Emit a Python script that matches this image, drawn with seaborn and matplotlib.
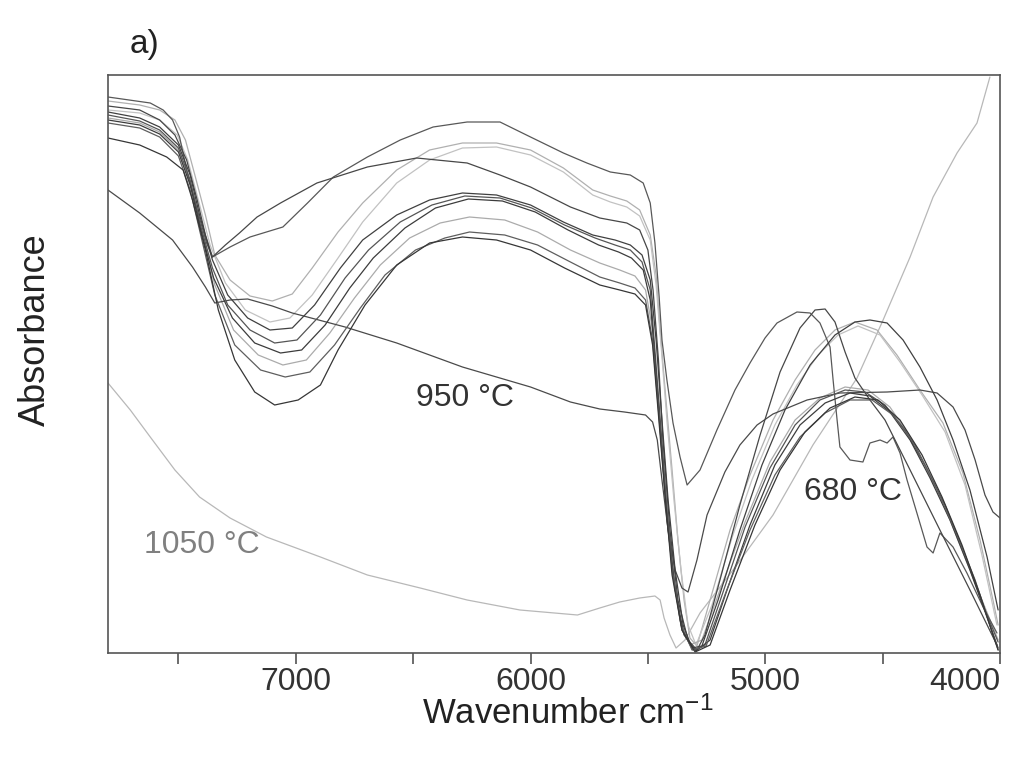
import pandas as pd
import matplotlib
matplotlib.use("Agg")
import matplotlib.pyplot as plt
import seaborn as sns

# ---------------------------------------------------------
# Spectra (wavenumber cm-1, absorbance a.u.)
# ---------------------------------------------------------
wn_1050 = [7800, 7705, 7620, 7515, 7410, 7280, 7125, 6895, 6695, 6470, 6270, 6045, 5800, 5705,
           5620, 5535, 5470, 5448, 5431, 5406, 5380, 5342, 5278, 5137, 4967, 4797, 4609, 4498,
           4383, 4285, 4183, 4098, 4043]
ab_1050 = [270, 243, 216, 183, 156, 135, 116, 96, 78, 65, 53, 43, 38, 45,
           51, 55, 57, 53, 35, 18, 5, 13, 40, 83, 138, 208, 275, 333,
           396, 456, 500, 530, 576]

wn_950 = [7800, 7665, 7525, 7440, 7385, 7345, 7280, 7205, 7100, 7015, 6790, 6570, 6290, 6000,
          5830, 5705, 5600, 5510, 5480, 5460, 5440, 5414, 5384, 5355, 5329, 5291, 5248, 5172,
          5108, 5035, 4967, 4822, 4682, 4481, 4341, 4268, 4200, 4149, 4106, 4064, 4030, 4000]
ab_950 = [463, 440, 413, 386, 366, 350, 353, 354, 347, 340, 326, 310, 286, 266,
          251, 244, 241, 238, 231, 213, 173, 123, 83, 65, 61, 93, 138, 181,
          208, 228, 239, 253, 260, 261, 263, 260, 246, 223, 193, 158, 141, 135]

wn_680 = [7800, 7620, 7565, 7525, 7495, 7465, 7420, 7380, 7355, 7280, 7195, 7055, 6950, 6840,
          6695, 6555, 6415, 6270, 6130, 6000, 5860, 5760, 5660, 5575, 5520, 5490, 5470, 5452,
          5440, 5419, 5393, 5363, 5333, 5278, 5206, 5129, 5065, 5001, 4950, 4865, 4809, 4767,
          4724, 4711, 4694, 4682, 4639, 4584, 4554, 4511, 4481, 4456, 4426, 4396, 4354, 4311,
          4285, 4256, 4200, 4141, 4072, 4013]
ab_680 = [556, 550, 543, 533, 516, 483, 443, 410, 396, 406, 416, 426, 450, 476,
          496, 513, 526, 531, 531, 516, 500, 490, 481, 478, 470, 450, 410, 356,
          313, 273, 230, 196, 168, 183, 223, 263, 290, 315, 330, 341, 340, 330,
          306, 273, 233, 206, 193, 191, 210, 213, 210, 216, 200, 173, 140, 106,
          100, 120, 106, 80, 46, 20]

wn_s1 = [7800, 7665, 7580, 7515, 7465, 7420, 7385, 7355, 7300, 7240, 7165, 7065, 6910, 6695,
         6485, 6270, 6130, 6000, 5830, 5705, 5590, 5535, 5500, 5478, 5455, 5436, 5406, 5372,
         5329, 5291, 5257, 5193, 5108, 5022, 4937, 4852, 4788, 4745, 4703, 4660, 4618, 4554,
         4490, 4383, 4256, 4128, 4013]
ab_s1 = [547, 543, 533, 518, 493, 453, 418, 396, 408, 420, 436, 450, 470, 486,
         495, 490, 478, 466, 446, 435, 430, 423, 403, 363, 293, 213, 123, 53,
         13, 3, 18, 73, 148, 218, 281, 325, 343, 344, 331, 301, 275, 253,
         233, 183, 123, 63, 8]

wn_l1 = [7800, 7665, 7580, 7515, 7470, 7430, 7385, 7345, 7280, 7195, 7100, 7015, 6930, 6820,
         6715, 6570, 6430, 6290, 6145, 6000, 5860, 5735, 5660, 5590, 5535, 5490, 5465, 5448,
         5423, 5397, 5372, 5346, 5321, 5291, 5235, 5150, 5065, 4967, 4873, 4788, 4703, 4618,
         4524, 4439, 4341, 4243, 4158, 4085, 4030, 4008]
ab_l1 = [552, 548, 543, 533, 513, 478, 438, 398, 373, 357, 352, 359, 385, 421,
         450, 483, 503, 510, 510, 503, 485, 463, 457, 452, 443, 418, 378, 323,
         253, 183, 113, 53, 15, 7, 53, 123, 178, 233, 273, 303, 323, 331,
         323, 298, 263, 230, 180, 113, 53, 28]

wn_l2 = [7800, 7665, 7580, 7505, 7460, 7415, 7365, 7300, 7215, 7110, 7025, 6930, 6820, 6715,
         6570, 6430, 6290, 6145, 6000, 5860, 5735, 5660, 5590, 5535, 5490, 5465, 5444, 5419,
         5389, 5359, 5329, 5295, 5227, 5142, 5057, 4959, 4865, 4775, 4690, 4605, 4511, 4426,
         4332, 4234, 4149, 4077, 4013]
ab_l2 = [543, 540, 533, 518, 493, 453, 408, 370, 343, 331, 335, 358, 395, 431,
         470, 493, 505, 506, 498, 481, 458, 451, 446, 437, 413, 368, 308, 233,
         153, 83, 28, 8, 48, 115, 173, 228, 268, 298, 318, 327, 318, 291,
         258, 221, 168, 98, 28]

wn_l3 = [7800, 7665, 7580, 7500, 7450, 7400, 7345, 7265, 7160, 7055, 6955, 6855, 6750, 6640,
         6515, 6385, 6260, 6110, 5970, 5830, 5705, 5620, 5555, 5510, 5480, 5455, 5427, 5397,
         5363, 5321, 5270, 5193, 5086, 4980, 4873, 4767, 4660, 4562, 4469, 4383, 4298, 4213,
         4128, 4051, 4008]
ab_l3 = [535, 530, 521, 503, 470, 421, 368, 323, 298, 288, 293, 320, 355, 388,
         415, 430, 436, 433, 421, 403, 390, 383, 377, 363, 323, 253, 173, 93,
         33, 8, 13, 63, 131, 191, 233, 255, 266, 263, 246, 216, 178, 133,
         83, 38, 13]

wn_b1 = [7800, 7665, 7580, 7500, 7450, 7410, 7355, 7290, 7205, 7110, 7015, 6920, 6810, 6715,
         6570, 6430, 6290, 6145, 6000, 5860, 5735, 5640, 5575, 5525, 5490, 5465, 5440, 5414,
         5384, 5350, 5312, 5270, 5201, 5108, 5014, 4916, 4809, 4703, 4618, 4554, 4481, 4413,
         4341, 4268, 4200, 4128, 4055, 4008]
ab_b1 = [541, 535, 526, 508, 478, 438, 393, 358, 335, 323, 325, 348, 385, 413,
         438, 453, 460, 458, 448, 431, 418, 413, 408, 398, 373, 313, 233, 153,
         83, 28, 5, 7, 53, 123, 188, 243, 288, 318, 331, 333, 330, 313,
         286, 253, 213, 163, 96, 43]

wn_b2 = [7800, 7665, 7580, 7500, 7450, 7410, 7355, 7290, 7195, 7090, 6995, 6895, 6790, 6690,
         6555, 6420, 6280, 6130, 5995, 5855, 5725, 5640, 5575, 5525, 5490, 5470, 5444, 5419,
         5389, 5355, 5308, 5257, 5184, 5086, 4980, 4873, 4767, 4660, 4575, 4490, 4405, 4320,
         4234, 4149, 4064, 4008]
ab_b2 = [538, 532, 523, 505, 473, 431, 385, 348, 323, 310, 313, 338, 375, 403,
         431, 448, 457, 455, 445, 428, 415, 408, 403, 391, 363, 303, 223, 143,
         73, 23, 3, 8, 58, 126, 185, 228, 253, 263, 261, 248, 223, 188,
         148, 98, 43, 11]

wn_b3 = [7800, 7665, 7580, 7500, 7450, 7405, 7350, 7270, 7175, 7065, 6975, 6875, 6770, 6670,
         6535, 6405, 6265, 6120, 5980, 5840, 5710, 5625, 5570, 5520, 5490, 5470, 5444, 5419,
         5384, 5346, 5295, 5235, 5163, 5065, 4959, 4852, 4745, 4639, 4554, 4469, 4383, 4298,
         4213, 4128, 4051, 4008]
ab_b3 = [533, 528, 519, 501, 468, 423, 375, 335, 310, 300, 303, 328, 365, 395,
         425, 445, 454, 452, 441, 423, 408, 401, 395, 383, 353, 293, 213, 133,
         63, 18, 2, 13, 63, 128, 188, 228, 250, 260, 257, 241, 213, 175,
         133, 83, 33, 5]

wn_b4 = [7800, 7665, 7580, 7500, 7450, 7400, 7345, 7260, 7150, 7045, 6940, 6835, 6725, 6620,
         6490, 6365, 6260, 6110, 5970, 5830, 5705, 5620, 5555, 5510, 5480, 5455, 5427, 5397,
         5359, 5312, 5252, 5172, 5065, 4959, 4852, 4745, 4639, 4545, 4456, 4362, 4277, 4192,
         4106, 4043, 4008]
ab_b4 = [530, 525, 516, 497, 463, 413, 358, 308, 283, 276, 281, 308, 345, 378,
         403, 415, 421, 418, 408, 391, 376, 370, 365, 353, 313, 243, 163, 83,
         28, 3, 7, 58, 123, 178, 216, 240, 253, 253, 238, 208, 168, 123,
         73, 28, 3]

wn_b5 = [7800, 7665, 7550, 7480, 7440, 7385, 7330, 7260, 7175, 7090, 6990, 6895, 6820, 6705,
         6570, 6430, 6290, 6145, 6000, 5855, 5705, 5620, 5555, 5510, 5480, 5455, 5427, 5397,
         5355, 5299, 5235, 5150, 5044, 4937, 4831, 4724, 4618, 4520, 4426, 4332, 4247, 4162,
         4085, 4030, 4008]
ab_b5 = [515, 508, 496, 483, 453, 403, 343, 293, 261, 248, 253, 268, 303, 348,
         388, 410, 416, 413, 403, 385, 368, 363, 359, 348, 308, 238, 158, 78,
         23, 1, 8, 63, 128, 183, 221, 245, 256, 253, 233, 198, 156, 108,
         58, 18, 3]

spectra = {
    "1050": (wn_1050, ab_1050), "l1": (wn_l1, ab_l1), "l2": (wn_l2, ab_l2),
    "l3": (wn_l3, ab_l3), "950": (wn_950, ab_950), "680": (wn_680, ab_680),
    "s1": (wn_s1, ab_s1), "b1": (wn_b1, ab_b1), "b2": (wn_b2, ab_b2),
    "b3": (wn_b3, ab_b3), "b4": (wn_b4, ab_b4), "b5": (wn_b5, ab_b5),
}
line_colors = {
    "1050": "#b8b8b8", "l1": "#b0b0b0", "l2": "#c2c2c2", "l3": "#ababab",
    "950": "#4a4a4a", "680": "#585858", "s1": "#474747", "b1": "#404040",
    "b2": "#555555", "b3": "#3c3c3c", "b4": "#5e5e5e", "b5": "#363636",
}
tick_pos = [7000, 6000, 5000, 4000]
tick_text = ["7000", "6000", "5000", "4000"]

rows = []
for name, (wn, ab) in spectra.items():
    for w, a in zip(wn, ab):
        rows.append({"sample": name, "Wavenumber": w, "Absorbance": a})
df = pd.DataFrame(rows)

# ---------------------------------------------------------
# Plot
# ---------------------------------------------------------
sns.set_theme(style="white")
plt.rcParams["font.family"] = ["Liberation Sans", "DejaVu Sans"]
plt.rcParams["mathtext.fontset"] = "custom"
plt.rcParams["mathtext.rm"] = "Liberation Sans"
plt.rcParams["mathtext.it"] = "Liberation Sans:italic"

fig = plt.figure(figsize=(10.11, 7.58), dpi=100)
ax = fig.add_axes([108 / 1011, 1 - 653 / 758, 892 / 1011, 578 / 758])

sns.lineplot(data=df, x="Wavenumber", y="Absorbance", hue="sample", palette=line_colors,
             units="sample", estimator=None, sort=False, linewidth=0.9, legend=False, ax=ax)

ax.set_xlim(7800, 4000)
ax.set_ylim(0, 578)
ax.set_xticks(tick_pos, labels=tick_text)
ax.set_xticks([7500, 6500, 5500, 4500], minor=True)
ax.set_yticks([])
ax.tick_params(axis="x", which="both", direction="out", length=8, width=1.1,
               color="#444444", bottom=True, pad=2, labelsize=23, labelcolor="#333333")
ax.get_xticklabels()[-1].set_horizontalalignment("right")
for sp in ax.spines.values():
    sp.set_color("#555555")
    sp.set_linewidth(1.2)

ax.set_xlabel("")
ax.set_ylabel("")
fig.text(0.562, 0.058, r"Wavenumber cm$^{\mathregular{-1}}$", ha="center", va="center",
         fontsize=25, color="#222222")
fig.text(0.035, 0.565, "Absorbance", ha="center", va="center", rotation=90,
         fontsize=26, color="#222222")
fig.text(0.143, 0.941, "a)", ha="center", va="center", fontsize=24, color="#222222")

ax.text(6279, 255, "950 °C", ha="center", va="center", fontsize=23, color="#333333")
ax.text(7400, 108, "1050 °C", ha="center", va="center", fontsize=23, color="#808080")
ax.text(4626, 161, "680 °C", ha="center", va="center", fontsize=23, color="#333333")

fig.savefig("out.png", dpi=100)
